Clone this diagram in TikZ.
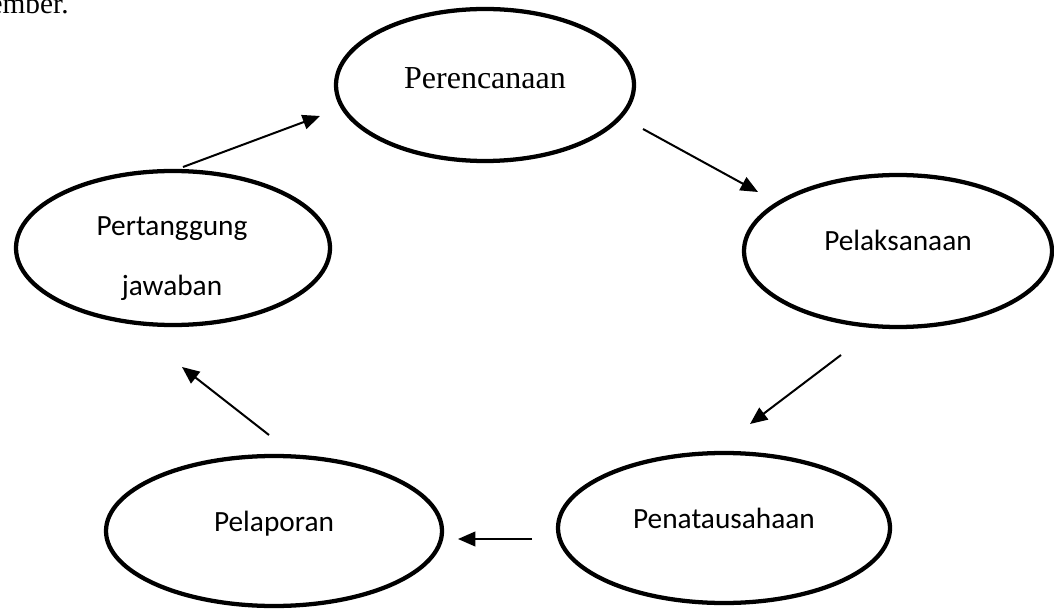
\documentclass[tikz,border=0pt]{standalone}
\usepackage{fontspec}
\setmainfont{Liberation Serif}
\newfontfamily\calibri{Carlito}
\usetikzlibrary{arrows.meta, shapes.geometric}

\begin{document}
\begin{tikzpicture}[
    x=0.375pt, y=-0.375pt,
    oval/.style={ellipse, draw, line width=1.6pt, inner sep=0pt,
                 text height=8pt, text depth=8pt, font=\calibri\fontsize{11}{13}\selectfont},
    flow/.style={-{Triangle[length=6.5pt, width=5.5pt]}, line width=0.75pt},
]
    \useasboundingbox (0,0) rectangle (1054,612);

    \node[anchor=base east, font=\fontsize{11}{13}\selectfont] (prev) at (78,14) {ember.};

    \node[oval, minimum width=111.75pt, minimum height=57pt, text height=9.5pt, text depth=6.5pt,
          font=\fontsize{12}{14}\selectfont] (plan) at (485,85) {Perencanaan};
    \node[oval, minimum width=115.5pt, minimum height=57pt] (exec) at (898,251) {Pelaksanaan};
    \node[oval, minimum width=124.5pt, minimum height=56.25pt] (admin) at (724,528) {Penatausahaan};
    \node[oval, minimum width=126pt, minimum height=56.25pt] (report) at (274,531) {Pelaporan};
    \node[oval, minimum width=117.75pt, minimum height=57.75pt] (resp) at (173,248) {};
    \node[align=center, font=\calibri\fontsize{11}{22.5}\selectfont] (resptxt) at (172,259) {Pertanggung\\jawaban};

    % free ends of the arrows
    \coordinate (a1s) at (183,167); \coordinate (a1e) at (320,116);
    \coordinate (a2s) at (643,129); \coordinate (a2e) at (758,192);
    \coordinate (a3s) at (841,355); \coordinate (a3e) at (750,424);
    \coordinate (a4s) at (532,539); \coordinate (a4e) at (458,539);
    \coordinate (a5s) at (269,435); \coordinate (a5e) at (182,367);

    \draw[flow] (a1s) -- (a1e);
    \draw[flow] (a2s) -- (a2e);
    \draw[flow] (a3s) -- (a3e);
    \draw[flow] (a4s) -- (a4e);
    \draw[flow] (a5s) -- (a5e);
\end{tikzpicture}
\end{document}
